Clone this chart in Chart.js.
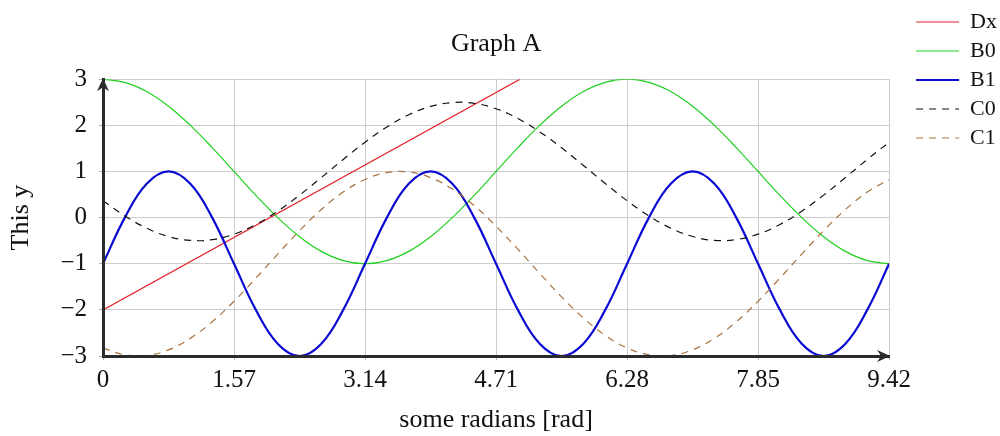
<!DOCTYPE html>
<html>
<head>
<meta charset="utf-8">
<title>Graph A</title>
<script src="https://cdn.jsdelivr.net/npm/chart.js@4.4.1/dist/chart.umd.min.js"></script>
<style>
  html, body { margin: 0; padding: 0; background: #ffffff; }
  #wrap { width: 1000px; height: 436px; }
</style>
</head>
<body>
<div id="wrap"><canvas id="chart" width="1000" height="436"></canvas></div>
<script>
// ---- data ----
const seriesNames = ['Dx', 'B0', 'B1', 'C0', 'C1'];

// sample positions along the x axis (radians)
const xs = [0, 0.2618, 0.5236, 0.7854, 1.0472, 1.3090, 1.5708, 1.8326, 2.0944, 2.3562,
            2.6180, 2.8798, 3.1416, 3.4034, 3.6652, 3.9270, 4.1888, 4.4506, 4.7124, 4.9742,
            5.2360, 5.4978, 5.7596, 6.0214, 6.2832, 6.5450, 6.8068, 7.0686, 7.3304, 7.5922,
            7.8540, 8.1158, 8.3776, 8.6394, 8.9012, 9.1630, 9.4248];

// straight line Dx
const dxX = [0, 5];
const dxY = [-2, 3];

const b0 = [3, 2.932, 2.732, 2.414, 2, 1.518, 1, 0.482, 0, -0.414,
            -0.732, -0.932, -1, -0.932, -0.732, -0.414, 0, 0.482, 1, 1.518,
            2, 2.414, 2.732, 2.932, 3, 2.932, 2.732, 2.414, 2, 1.518,
            1, 0.482, 0, -0.414, -0.732, -0.932, -1];

const b1 = [-1, 0, 0.732, 1, 0.732, 0, -1, -2, -2.732, -3,
            -2.732, -2, -1, 0, 0.732, 1, 0.732, 0, -1, -2,
            -2.732, -3, -2.732, -2, -1, 0, 0.732, 1, 0.732, 0,
            -1, -2, -2.732, -3, -2.732, -2, -1];

const c0 = [0.366, 0.036, -0.229, -0.410, -0.494, -0.477, -0.359, -0.149, 0.140, 0.487,
            0.869, 1.260, 1.634, 1.964, 2.229, 2.410, 2.494, 2.477, 2.359, 2.149,
            1.860, 1.513, 1.131, 0.740, 0.366, 0.036, -0.229, -0.410, -0.494, -0.477,
            -0.359, -0.149, 0.140, 0.487, 0.869, 1.260, 1.634];

const c1 = [-2.827, -2.975, -2.989, -2.867, -2.618, -2.259, -1.813, -1.313, -0.791, -0.283,
            0.176, 0.554, 0.827, 0.975, 0.989, 0.867, 0.618, 0.259, -0.187, -0.687,
            -1.209, -1.717, -2.176, -2.554, -2.827, -2.975, -2.989, -2.867, -2.618, -2.259,
            -1.813, -1.313, -0.791, -0.283, 0.176, 0.554, 0.827];

const xTickValues = [0, 1.5708, 3.1416, 4.7124, 6.2832, 7.8540, 9.4248];
const xTickLabels = ['0', '1.57', '3.14', '4.71', '6.28', '7.85', '9.42'];
const yTickValues = [-3, -2, -1, 0, 1, 2, 3];
const yTickLabels = ['\u22123', '\u22122', '\u22121', '0', '1', '2', '3'];

// ---- helpers ----
const SERIF = "'Liberation Serif', 'Times New Roman', serif";
const LEGEND_PAD = 7;
const toPoints = (xArr, yArr) => xArr.map((x, i) => ({ x: x, y: yArr[i] }));

function drawArrowHead(ctx, x, y, angle) {
  ctx.save();
  ctx.translate(x, y);
  ctx.rotate(angle);
  ctx.beginPath();
  ctx.moveTo(0, 0);
  ctx.lineTo(-13, -6);
  ctx.lineTo(-9, 0);
  ctx.lineTo(-13, 6);
  ctx.closePath();
  ctx.fill();
  ctx.restore();
}

// arrow tips on the two axis lines
const axisArrows = {
  id: 'axisArrows',
  afterDraw(chart) {
    const { ctx, chartArea: a } = chart;
    ctx.save();
    ctx.fillStyle = '#2b2b2b';
    drawArrowHead(ctx, a.right + 1, a.bottom, 0);
    drawArrowHead(ctx, a.left, a.top - 1, -Math.PI / 2);
    ctx.restore();
  }
};

// keep the legend a little away from the plot's right edge
const legendOffset = {
  id: 'legendOffset',
  afterLayout(chart) {
    const lg = chart.legend;
    if (!lg) return;
    const left = chart.chartArea.right + 27 - LEGEND_PAD;
    lg.left = left;
    lg.right = left + lg.width;
    lg.top = 4;
  }
};

const lineBase = { pointRadius: 0, pointHoverRadius: 0, pointHitRadius: 0, fill: false };

const datasets = [
  Object.assign({ label: seriesNames[0], data: toPoints(dxX, dxY), borderColor: '#e3232a',
    borderWidth: 1.2, tension: 0, order: 4 }, lineBase),
  Object.assign({ label: seriesNames[1], data: toPoints(xs, b0), borderColor: '#1fd11f',
    borderWidth: 1.2, tension: 0.4, order: 3 }, lineBase),
  Object.assign({ label: seriesNames[2], data: toPoints(xs, b1), borderColor: '#0a0ad2',
    borderWidth: 2.2, tension: 0.4, order: 2 }, lineBase),
  Object.assign({ label: seriesNames[3], data: toPoints(xs, c0), borderColor: '#111111',
    borderWidth: 1.2, borderDash: [7, 6], tension: 0.4, order: 1 }, lineBase),
  Object.assign({ label: seriesNames[4], data: toPoints(xs, c1), borderColor: '#a8723f',
    borderWidth: 1.2, borderDash: [7, 6], tension: 0.4, order: 0 }, lineBase)
];

const tickFont = { family: SERIF, size: 25, weight: 'normal' };
const titleFont = { family: SERIF, size: 26, lineHeight: 1.2, weight: 'normal' };
const gridOpts = { color: '#cdcdcd', lineWidth: 1, tickLength: 4, tickColor: '#b0b0b0' };
const borderOpts = { color: '#2b2b2b', width: 3, z: 1 };

new Chart(document.getElementById('chart'), {
  type: 'line',
  data: { datasets: datasets },
  plugins: [axisArrows, legendOffset],
  options: {
    responsive: false,
    devicePixelRatio: 1,
    animation: false,
    events: [],
    layout: { padding: { top: 3, right: 13, bottom: 0, left: 0 } },
    scales: {
      x: {
        type: 'linear',
        min: 0,
        max: 9.4248,
        afterBuildTicks: (s) => { s.ticks = xTickValues.map(v => ({ value: v })); },
        afterFit: (s) => { s.height = 80; },
        ticks: {
          callback: (v, i) => xTickLabels[i],
          font: tickFont, color: '#111', padding: 5, maxRotation: 0, autoSkip: false
        },
        grid: gridOpts,
        border: borderOpts,
        title: { display: true, text: 'some radians [rad]', font: titleFont, color: '#111',
                 padding: { top: 0, bottom: 0 } }
      },
      y: {
        type: 'linear',
        min: -3,
        max: 3,
        afterBuildTicks: (s) => { s.ticks = yTickValues.map(v => ({ value: v })); },
        afterFit: (s) => { s.width = 103; },
        ticks: {
          callback: (v, i) => yTickLabels[i],
          font: tickFont, color: '#111', padding: 12, autoSkip: false
        },
        grid: gridOpts,
        border: borderOpts,
        title: { display: true, text: 'This y', font: titleFont, color: '#111',
                 padding: { top: 6, bottom: 0 } }
      }
    },
    plugins: {
      tooltip: { enabled: false },
      title: {
        display: true,
        text: 'Graph A',
        fullSize: false,
        font: titleFont,
        color: '#111',
        padding: { top: 26, bottom: 19 }
      },
      legend: {
        position: 'right',
        align: 'start',
        labels: {
          usePointStyle: true,
          pointStyle: 'line',
          pointStyleWidth: 43,
          padding: LEGEND_PAD,
          color: '#111',
          font: { family: SERIF, size: 22, weight: 'normal' },
          sort: (a, b) => a.datasetIndex - b.datasetIndex,
          generateLabels: (chart) => {
            const items = Chart.defaults.plugins.legend.labels.generateLabels(chart);
            items.forEach(it => {
              const ds = chart.data.datasets[it.datasetIndex];
              it.lineDash = ds.borderDash || [];
              it.lineWidth = ds.borderWidth;
              it.strokeStyle = ds.borderColor;
              it.pointStyle = 'line';
            });
            return items;
          }
        }
      }
    }
  }
});
</script>
</body>
</html>
